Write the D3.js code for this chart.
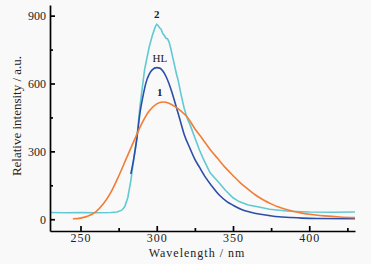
<!doctype html>
<html lang="en">
<head>
  <meta charset="UTF-8">
  <title>Fluorescence spectra</title>
<style>
  body{ margin: 0; background: #fff; }
  svg{ display: block; font-family: "Liberation Serif", "DejaVu Serif", serif; }
  .axis path,
  .axis line{
    fill: none;
    stroke: #000;
    stroke-width: 1.7px;
  }
  .axis text{
    font-size: 12px;
    font-family: "Liberation Serif", serif;
    fill: #222;
  }
  .x.axis text{
    letter-spacing: 1px;
  }
  .line{
    fill: none;
    stroke-width: 1.6px;
  }
</style>
</head>

<body>
<script src="https://d3js.org/d3.v7.min.js"></script>

<script>
// curve 1 (orange)
var wl1  = [245, 250, 255, 260, 265, 270, 275, 280, 285, 290, 295, 300, 304, 308, 312, 316, 320, 325, 330, 335, 340, 345, 350, 355, 360, 365, 370, 375, 380, 385, 390, 395, 400, 410, 420, 430];
var int1 = [2, 5, 14, 33, 68, 120, 190, 268, 345, 420, 478, 510, 518, 513, 498, 478, 452, 400, 355, 308, 268, 228, 193, 160, 132, 106, 85, 68, 54, 43, 34, 27, 22, 15, 10, 7];

// HL (blue)
var wlHL  = [283, 285, 287, 289, 291, 293, 295, 297, 300, 302, 304, 306, 308, 310, 312, 315, 318, 322, 325, 328, 332, 336, 341, 346, 350, 356, 361, 368, 374, 380, 387, 395, 405, 430];
var intHL = [200, 270, 360, 470, 545, 605, 640, 660, 670, 668, 655, 632, 600, 560, 515, 445, 375, 310, 265, 230, 185, 148, 107, 78, 62, 42, 32, 22, 16, 11, 8, 5, 3, 2];

// curve 2 (cyan)
var wl2  = [230, 240, 250, 260, 270, 274, 277, 279, 281, 283, 285, 287, 289, 292, 295, 297, 299, 300, 301, 302, 303, 304, 305, 306, 307, 308, 309, 311, 313, 314, 316, 318, 320, 322, 325, 328, 331, 335, 341, 345, 350, 354, 360, 367, 374, 387, 400, 415, 430];
var int2 = [30, 29, 30, 29, 30, 32, 40, 55, 95, 170, 270, 360, 500, 660, 760, 810, 850, 862, 855, 845, 838, 820, 812, 800, 798, 785, 760, 700, 640, 615, 550, 490, 445, 415, 360, 306, 260, 205, 160, 128, 95, 78, 63, 54, 44, 35, 32, 31, 32];

var xTicks = [250, 300, 350, 400];
var yTicks = [0, 300, 600, 900];

var width = 371, height = 264;
var plot = {left: 50, right: 355, top: 5, bottom: 231};

var x = d3.scaleLinear().domain([230, 430]).range([plot.left, plot.right]);
var y = d3.scaleLinear().domain([-52, 947]).range([plot.bottom, plot.top]);

var svg = d3.select("body").append("svg")
    .attr("width", width)
    .attr("height", height);

svg.append("rect")
    .attr("width", width)
    .attr("height", height)
    .attr("fill", "#f9f9f9");

function toPts(xs, ys) {
  return xs.map(function(d, i) { return {x: d, y: ys[i]}; });
}

var smooth = d3.line()
    .x(function(d) { return x(d.x); })
    .y(function(d) { return y(d.y); })
    .curve(d3.curveMonotoneX);

var rough = d3.line()
    .x(function(d) { return x(d.x); })
    .y(function(d) { return y(d.y); });

svg.append("path")
    .datum(toPts(wl2, int2))
    .attr("class", "line")
    .attr("stroke", "#62c9d2")
    .attr("d", rough);

svg.append("path")
    .datum(toPts(wlHL, intHL))
    .attr("class", "line")
    .attr("stroke", "#2d4ea8")
    .attr("d", smooth);

svg.append("path")
    .datum(toPts(wl1, int1))
    .attr("class", "line")
    .attr("stroke", "#f27d35")
    .attr("d", smooth);

// axes: ticks point inward, labelled ones a bit longer
var xAxis = d3.axisBottom(x)
    .tickValues(d3.range(250, 431, 25))
    .tickSizeInner(-4)
    .tickSizeOuter(0)
    .tickPadding(2)
    .tickFormat(function(d) { return xTicks.indexOf(d) >= 0 ? d : ""; });

var yAxis = d3.axisLeft(y)
    .tickValues(d3.range(0, 901, 150))
    .tickSizeInner(-4)
    .tickSizeOuter(0)
    .tickPadding(4)
    .tickFormat(function(d) { return yTicks.indexOf(d) >= 0 ? d : ""; });

var gx = svg.append("g")
    .attr("class", "x axis")
    .attr("transform", "translate(0," + plot.bottom + ")")
    .call(xAxis);

var gy = svg.append("g")
    .attr("class", "y axis")
    .attr("transform", "translate(" + plot.left + ",0)")
    .call(yAxis);

gx.selectAll(".tick line")
    .attr("y2", function(d) { return xTicks.indexOf(d) >= 0 ? -5 : -3; });
gy.selectAll(".tick line")
    .attr("x2", function(d) { return yTicks.indexOf(d) >= 0 ? 5 : 3; });

svg.append("text")
    .attr("x", 197)
    .attr("y", 257)
    .attr("text-anchor", "middle")
    .attr("font-size", 12)
    .attr("letter-spacing", 1)
    .attr("fill", "#222")
    .text("Wavelength / nm");

svg.append("text")
    .attr("transform", "translate(21,116) rotate(-90)")
    .attr("text-anchor", "middle")
    .attr("font-size", 13)
    .attr("fill", "#222")
    .text("Relative intensity / a.u.");

// curve labels
var labels = [
  {t: "2", x: 300, y: 862, bold: true},
  {t: "HL", x: 302, y: 670, bold: false},
  {t: "1", x: 302, y: 518, bold: true}
];

svg.selectAll(".lab")
    .data(labels)
    .enter().append("text")
    .attr("class", "lab")
    .attr("x", function(d) { return x(d.x); })
    .attr("y", function(d) { return y(d.y) - 6; })
    .attr("text-anchor", "middle")
    .attr("font-size", 11)
    .attr("font-weight", function(d) { return d.bold ? "bold" : "normal"; })
    .attr("fill", "#222")
    .text(function(d) { return d.t; });
</script>
</body>
</html>
